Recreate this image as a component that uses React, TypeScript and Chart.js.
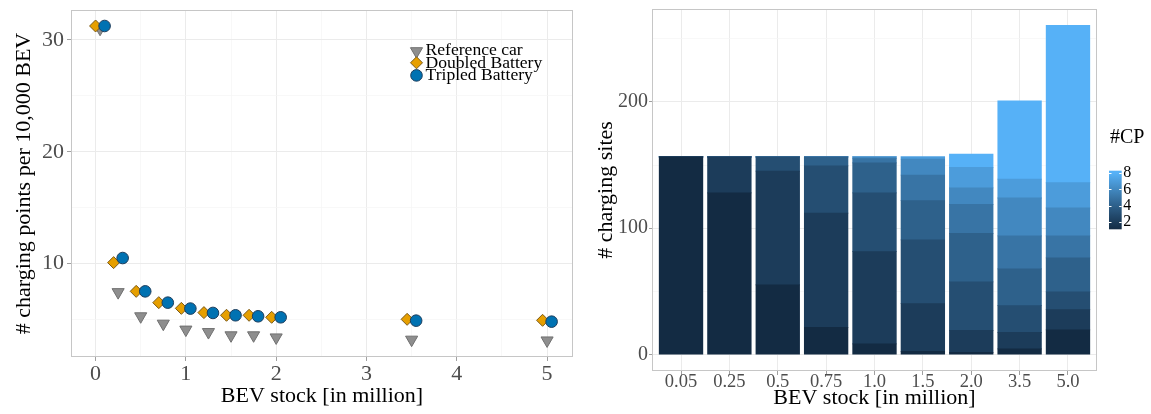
import React, { useEffect, useRef } from 'react';
import { Chart, registerables } from 'chart.js';

Chart.register(...registerables);

// ---------- Left chart data ----------
const bevStock = [0.05, 0.25, 0.5, 0.75, 1, 1.25, 1.5, 1.75, 2, 3.5, 5];
const referenceCar = [31.0, 7.45, 5.29, 4.63, 4.1, 3.88, 3.59, 3.59, 3.4, 3.2, 3.13];
const doubledBattery = [31.25, 10.09, 7.52, 6.51, 6.0, 5.62, 5.38, 5.38, 5.2, 5.02, 4.93];
const tripledBattery = [31.25, 10.5, 7.52, 6.51, 5.98, 5.59, 5.38, 5.29, 5.2, 4.9, 4.81];
const seriesNames = ['Reference car', 'Doubled Battery', 'Tripled Battery'];
const leftXMajor = [0, 1, 2, 3, 4, 5];
const leftXMinor = [0.5, 1.5, 2.5, 3.5, 4.5];
const leftYMajor = [10, 20, 30];
const leftYMinor = [5, 15, 25];

// ---------- Right chart data ----------
const siteCategories = ['0.05', '0.25', '0.5', '0.75', '1.0', '1.5', '2.0', '3.5', '5.0'];
const cp1 = [156.5, 128, 55.2, 21.5, 8.5, 2.6, 1.8, 4.5, 19.5];
const cp2 = [0, 28.5, 90, 90.5, 73, 37.7, 17.4, 13.1, 16];
const cp3 = [0, 0, 11.3, 37.4, 46.5, 50.5, 38.4, 21.1, 14.2];
const cp4 = [0, 0, 0, 7.1, 23.7, 31, 38.4, 29.2, 26.9];
const cp5 = [0, 0, 0, 0, 3.4, 20.3, 22.9, 26, 17.3];
const cp6 = [0, 0, 0, 0, 1.4, 12.6, 13.1, 30, 22.1];
const cp7 = [0, 0, 0, 0, 0, 1.8, 16.1, 15, 20];
const cp8 = [0, 0, 0, 0, 0, 0, 10.5, 61.8, 124.5];
const cpSeries = [cp1, cp2, cp3, cp4, cp5, cp6, cp7, cp8];
const cpLevels = [1, 2, 3, 4, 5, 6, 7, 8];
const rightYMajor = [0, 100, 200];
const rightYMinor = [50, 150, 250];
const colorbarTicks = [2, 4, 6, 8];

const SERIF = '"Liberation Serif", "Times New Roman", serif';
const TICK_COLOR = '#4d4d4d';
const GRID_MAJOR = '#ebebeb';
const GRID_MINOR = '#f5f5f5';
const TICK_MARK = '#a0a0a0';

// ---------- colour scale (ggplot default, Lab interpolation) ----------
const LOW = '#132B43';
const HIGH = '#56B1F7';
function hexToRgb(h: string) {
  const n = parseInt(h.slice(1), 16);
  return [(n >> 16) & 255, (n >> 8) & 255, n & 255];
}
function toLab(rgb: number[]) {
  const lin = rgb.map((c) => {
    const v = c / 255;
    return v <= 0.04045 ? v / 12.92 : Math.pow((v + 0.055) / 1.055, 2.4);
  });
  const X = (0.4124564 * lin[0] + 0.3575761 * lin[1] + 0.1804375 * lin[2]) / 0.95047;
  const Y = 0.2126729 * lin[0] + 0.7151522 * lin[1] + 0.072175 * lin[2];
  const Z = (0.0193339 * lin[0] + 0.119192 * lin[1] + 0.9503041 * lin[2]) / 1.08883;
  const f = (t: number) => (t > 0.008856 ? Math.cbrt(t) : 7.787 * t + 16 / 116);
  const fx = f(X), fy = f(Y), fz = f(Z);
  return [116 * fy - 16, 500 * (fx - fy), 200 * (fy - fz)];
}
function fromLab(lab: number[]) {
  const fy = (lab[0] + 16) / 116;
  const fx = fy + lab[1] / 500;
  const fz = fy - lab[2] / 200;
  const inv = (t: number) => (t * t * t > 0.008856 ? t * t * t : (t - 16 / 116) / 7.787);
  const X = inv(fx) * 0.95047, Y = inv(fy), Z = inv(fz) * 1.08883;
  const lin = [
    3.2404542 * X - 1.5371385 * Y - 0.4985314 * Z,
    -0.969266 * X + 1.8760108 * Y + 0.041556 * Z,
    0.0556434 * X - 0.2040259 * Y + 1.0572252 * Z,
  ];
  const c = lin.map((v) => {
    const s = v <= 0.0031308 ? 12.92 * v : 1.055 * Math.pow(v, 1 / 2.4) - 0.055;
    return Math.round(Math.min(1, Math.max(0, s)) * 255);
  });
  return `rgb(${c[0]},${c[1]},${c[2]})`;
}
const LAB_LOW = toLab(hexToRgb(LOW));
const LAB_HIGH = toLab(hexToRgb(HIGH));
function cpColor(v: number) {
  const t = Math.min(1, Math.max(0, (v - 1) / 7));
  return fromLab(LAB_LOW.map((a, i) => a + (LAB_HIGH[i] - a) * t));
}

// ---------- helpers ----------
function drawMarker(ctx: CanvasRenderingContext2D, style: string, x: number, y: number, r: number, fill: string, stroke: string) {
  ctx.beginPath();
  if (style === 'triangle') {
    ctx.moveTo(x, y + r);
    ctx.lineTo(x - 0.866 * r, y - 0.5 * r);
    ctx.lineTo(x + 0.866 * r, y - 0.5 * r);
    ctx.closePath();
  } else if (style === 'rectRot') {
    ctx.moveTo(x, y - r);
    ctx.lineTo(x + r, y);
    ctx.lineTo(x, y + r);
    ctx.lineTo(x - r, y);
    ctx.closePath();
  } else {
    ctx.arc(x, y, r, 0, Math.PI * 2);
  }
  ctx.fillStyle = fill;
  ctx.fill();
  ctx.lineWidth = 1;
  ctx.strokeStyle = stroke;
  ctx.stroke();
}

const panelBorder = {
  id: 'panelBorder',
  afterDatasetsDraw(chart: any) {
    const { ctx, chartArea: a } = chart;
    ctx.save();
    ctx.strokeStyle = '#c6c6c6';
    ctx.lineWidth = 1;
    ctx.strokeRect(Math.round(a.left) + 0.5, Math.round(a.top) + 0.5, Math.round(a.right - a.left) - 1, Math.round(a.bottom - a.top) - 1);
    ctx.restore();
  },
};

const markerStyles = [
  { style: 'triangle', r: 7, fill: '#8e8e8e', stroke: '#707070' },
  { style: 'rectRot', r: 6, fill: '#E69F00', stroke: '#7a5a1a' },
  { style: 'circle', r: 5.8, fill: '#0072B2', stroke: '#1d3d5c' },
];

const pointLegend = {
  id: 'pointLegend',
  afterDraw(chart: any) {
    const ctx = chart.ctx as CanvasRenderingContext2D;
    const rows = [51.2, 62.8, 75.4];
    const textRows = [50.6, 63.2, 75.6];
    ctx.save();
    seriesNames.forEach((name, i) => {
      const m = markerStyles[i];
      drawMarker(ctx, m.style, 416.5, rows[i], m.r, m.fill, m.stroke);
      ctx.fillStyle = '#000';
      ctx.font = `17.6px ${SERIF}`;
      ctx.textBaseline = 'middle';
      ctx.textAlign = 'left';
      ctx.fillText(name, 425.5, textRows[i]);
    });
    ctx.restore();
  },
};

const colorbarLegend = {
  id: 'colorbarLegend',
  afterDraw(chart: any) {
    const ctx = chart.ctx as CanvasRenderingContext2D;
    const x0 = 519, w = 12.7, yTop = 170.7, yBot = 229.3;
    const yOf = (v: number) => 221.7 - (v - 2) * 8.07;
    ctx.save();
    const g = ctx.createLinearGradient(0, yOf(1), 0, yOf(8));
    for (let k = 0; k <= 20; k++) {
      const v = 1 + (7 * k) / 20;
      g.addColorStop(k / 20, cpColor(v));
    }
    ctx.fillStyle = g;
    ctx.fillRect(x0, yTop, w, yBot - yTop);
    ctx.strokeStyle = '#ffffff';
    ctx.lineWidth = 1;
    colorbarTicks.forEach((v) => {
      const y = Math.round(yOf(v)) + 0.5;
      ctx.beginPath();
      ctx.moveTo(x0, y);
      ctx.lineTo(x0 + 2.5, y);
      ctx.moveTo(x0 + w - 2.5, y);
      ctx.lineTo(x0 + w, y);
      ctx.stroke();
    });
    ctx.fillStyle = '#000';
    ctx.font = `16px ${SERIF}`;
    ctx.textBaseline = 'middle';
    ctx.textAlign = 'left';
    colorbarTicks.forEach((v) => ctx.fillText(String(v), x0 + w + 1.5, yOf(v)));
    ctx.font = `20px ${SERIF}`;
    ctx.fillText('#CP', 520, 138);
    ctx.restore();
  },
};

function gridOpts(isMajor: (v: number) => boolean, tickLength: number) {
  return {
    color: (c: any) => (c.tick && isMajor(c.tick.value) ? GRID_MAJOR : GRID_MINOR),
    lineWidth: (c: any) => (c.tick && isMajor(c.tick.value) ? 1 : 0.7),
    tickColor: (c: any) => (c.tick && isMajor(c.tick.value) ? TICK_MARK : 'rgba(0,0,0,0)'),
    tickWidth: 1,
    tickLength,
    drawTicks: true,
    offset: false,
  };
}

function fixWidth(w: number) {
  return (s: any) => {
    s.width = w;
    s.paddingTop = 0;
    s.paddingBottom = 0;
  };
}
function fixHeight(h: number) {
  return (s: any) => {
    s.height = h;
    s.paddingLeft = 0;
    s.paddingRight = 0;
  };
}

function leftConfig(): any {
  const dodge = 0.05;
  const xs = [bevStock, bevStock.map((x) => x - dodge), bevStock.map((x) => x + dodge)];
  const ys = [referenceCar, doubledBattery, tripledBattery];
  const datasets = seriesNames.map((name, i) => ({
    label: name,
    data: xs[i].map((x, k) => ({ x, y: ys[i][k] })),
    showLine: false,
    pointStyle: markerStyles[i].style,
    pointRadius: markerStyles[i].r,
    pointRotation: i === 0 ? 180 : 0,
    pointBackgroundColor: markerStyles[i].fill,
    pointBorderColor: markerStyles[i].stroke,
    pointBorderWidth: 1,
    order: 3 - i,
  }));
  const isXMajor = (v: number) => leftXMajor.includes(v);
  const isYMajor = (v: number) => leftYMajor.includes(v);
  return {
    type: 'scatter',
    data: { datasets },
    plugins: [panelBorder, pointLegend],
    options: {
      animation: false,
      responsive: false,
      events: [],
      layout: { padding: { left: 0, top: 10, right: 17, bottom: 0 } },
      plugins: { legend: { display: false }, tooltip: { enabled: false } },
      scales: {
        x: {
          type: 'linear',
          min: -0.272,
          max: 5.287,
          afterBuildTicks: (s: any) => {
            s.ticks = [...leftXMajor, ...leftXMinor].sort((a, b) => a - b).map((v) => ({ value: v }));
          },
          afterFit: fixHeight(57),
          ticks: {
            autoSkip: false,
            maxRotation: 0,
            padding: 0,
            color: TICK_COLOR,
            font: { family: SERIF, size: 22 },
            callback: (v: number) => (isXMajor(v) ? String(v) : ''),
          },
          grid: gridOpts(isXMajor, 4),
          border: { display: false },
          title: {
            display: true,
            text: 'BEV stock [in million]',
            color: '#000',
            font: { family: SERIF, size: 22 },
            padding: { top: 0, bottom: 5 },
          },
        },
        y: {
          type: 'linear',
          min: 1.65,
          max: 32.68,
          afterBuildTicks: (s: any) => {
            s.ticks = [...leftYMajor, ...leftYMinor].sort((a, b) => a - b).map((v) => ({ value: v }));
          },
          afterFit: fixWidth(71),
          ticks: {
            autoSkip: false,
            padding: 3,
            color: TICK_COLOR,
            font: { family: SERIF, size: 22 },
            callback: (v: number) => (isYMajor(v) ? String(v) : ''),
          },
          grid: gridOpts(isYMajor, 4),
          border: { display: false },
          title: {
            display: true,
            text: '# charging points per 10,000 BEV',
            color: '#000',
            font: { family: SERIF, size: 22 },
            padding: { top: 11, bottom: 0 },
          },
        },
      },
    },
  };
}

function rightConfig(): any {
  const datasets = cpSeries.map((vals, k) => ({
    label: String(cpLevels[k]),
    data: vals.map((y, i) => ({ x: i, y })),
    backgroundColor: cpColor(cpLevels[k]),
    borderWidth: 0,
    inflateAmount: 0.4,
    barPercentage: 0.9,
    categoryPercentage: 1,
  }));
  const isYMajor = (v: number) => rightYMajor.includes(v);
  return {
    type: 'bar',
    data: { datasets },
    plugins: [panelBorder, colorbarLegend],
    options: {
      animation: false,
      responsive: false,
      events: [],
      layout: { padding: { left: 0, top: 9, right: 54, bottom: 0 } },
      plugins: { legend: { display: false }, tooltip: { enabled: false } },
      scales: {
        x: {
          type: 'linear',
          stacked: true,
          offset: false,
          min: -0.6,
          max: 8.6,
          afterBuildTicks: (s: any) => {
            s.ticks = siteCategories.map((_, i) => ({ value: i }));
          },
          afterFit: fixHeight(43),
          ticks: {
            autoSkip: false,
            maxRotation: 0,
            padding: -4,
            color: TICK_COLOR,
            font: { family: SERIF, size: 18.5 },
            callback: (v: number) => siteCategories[v] ?? '',
          },
          grid: gridOpts(() => true, 4),
          border: { display: false },
          title: {
            display: true,
            text: 'BEV stock [in million]',
            color: '#000',
            font: { family: SERIF, size: 22 },
            padding: { top: 0, bottom: 3 },
          },
        },
        y: {
          type: 'linear',
          stacked: true,
          min: -13,
          max: 273.5,
          afterBuildTicks: (s: any) => {
            s.ticks = [...rightYMajor, ...rightYMinor].sort((a, b) => a - b).map((v) => ({ value: v }));
          },
          afterFit: fixWidth(62),
          ticks: {
            autoSkip: false,
            padding: 1,
            color: TICK_COLOR,
            font: { family: SERIF, size: 20 },
            callback: (v: number) => (isYMajor(v) ? String(v) : ''),
          },
          grid: gridOpts(isYMajor, 3),
          border: { display: false },
          title: {
            display: true,
            text: '# charging sites',
            color: '#000',
            font: { family: SERIF, size: 22 },
            padding: { top: 3, bottom: 0 },
          },
        },
      },
    },
  };
}

export default function App() {
  const leftRef = useRef<HTMLCanvasElement>(null);
  const rightRef = useRef<HTMLCanvasElement>(null);
  useEffect(() => {
    const c1 = new Chart(leftRef.current as HTMLCanvasElement, leftConfig());
    const c2 = new Chart(rightRef.current as HTMLCanvasElement, rightConfig());
    return () => {
      c1.destroy();
      c2.destroy();
    };
  }, []);
  return (
    <div style={{ position: 'absolute', left: 0, top: 0, width: 1151, height: 414, background: '#ffffff', overflow: 'hidden' }}>
      <canvas ref={leftRef} width={590} height={414} style={{ position: 'absolute', left: 0, top: 0, width: 590, height: 414 }} />
      <canvas ref={rightRef} width={561} height={414} style={{ position: 'absolute', left: 590, top: 0, width: 561, height: 414 }} />
    </div>
  );
}
